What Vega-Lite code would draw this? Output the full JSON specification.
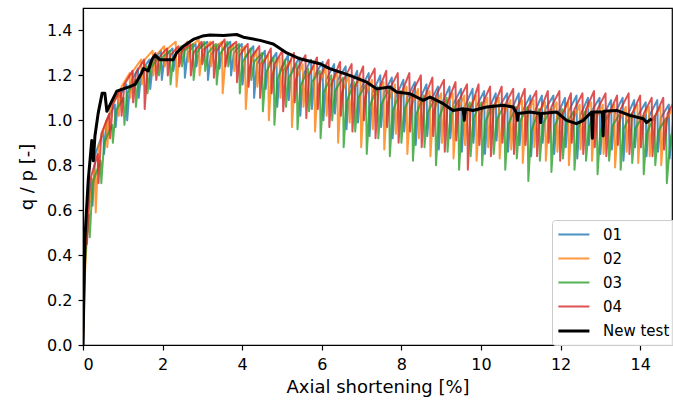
{
"$schema":"https://vega.github.io/schema/vega-lite/v6.json",
"width":589,"height":337,
"autosize":{"type":"none"},
"padding":{"left":83,"top":8,"right":1,"bottom":60},
"config":{
 "font":"DejaVu Sans",
 "view":{"stroke":"#000000","strokeWidth":1.2},
 "axis":{"grid":false,"domainColor":"#000000","domainWidth":1.2,"tickColor":"#000000","tickWidth":1.2,"tickSize":5,"labelColor":"#000000","titleColor":"#000000","labelFontSize":16,"titleFontSize":18,"titleFontWeight":"normal","labelFont":"DejaVu Sans","titleFont":"DejaVu Sans"},
 "legend":{"orient":"none","legendX":469,"legendY":212,"padding":6,"strokeColor":"#cccccc","fillColor":"rgba(255,255,255,0.85)","cornerRadius":3,"labelFontSize":15,"labelFont":"DejaVu Sans","labelColor":"#000000","symbolType":"M-1.15,0H2.99","symbolSize":225,"rowPadding":7,"labelOffset":27,"symbolStrokeWidth":2}
},
"data":{"values":[
{"s":"01","x":0,"y":0},{"s":"01","x":0.04,"y":0.35},{"s":"01","x":0.1,"y":0.55},{"s":"01","x":0.16,"y":0.67},
{"s":"01","x":0.22,"y":0.74},{"s":"01","x":0.24,"y":0.62},{"s":"01","x":0.31,"y":0.85},
{"s":"01","x":0.51,"y":0.95},{"s":"01","x":0.53,"y":0.85},{"s":"01","x":0.60,"y":1.00},
{"s":"01","x":0.80,"y":1.07},{"s":"01","x":0.82,"y":0.97},{"s":"01","x":0.89,"y":1.10},
{"s":"01","x":1.09,"y":1.16},{"s":"01","x":1.11,"y":1.00},{"s":"01","x":1.18,"y":1.16},
{"s":"01","x":1.38,"y":1.23},{"s":"01","x":1.40,"y":1.10},{"s":"01","x":1.47,"y":1.22},
{"s":"01","x":1.67,"y":1.27},{"s":"01","x":1.69,"y":1.14},{"s":"01","x":1.76,"y":1.26},
{"s":"01","x":1.96,"y":1.31},{"s":"01","x":1.98,"y":1.18},{"s":"01","x":2.05,"y":1.28},
{"s":"01","x":2.25,"y":1.32},{"s":"01","x":2.27,"y":1.22},{"s":"01","x":2.34,"y":1.30},
{"s":"01","x":2.54,"y":1.33},{"s":"01","x":2.56,"y":1.19},{"s":"01","x":2.63,"y":1.30},
{"s":"01","x":2.83,"y":1.34},{"s":"01","x":2.85,"y":1.24},{"s":"01","x":2.92,"y":1.32},
{"s":"01","x":3.12,"y":1.35},{"s":"01","x":3.14,"y":1.18},{"s":"01","x":3.21,"y":1.29},
{"s":"01","x":3.41,"y":1.34},{"s":"01","x":3.43,"y":1.23},{"s":"01","x":3.50,"y":1.31},
{"s":"01","x":3.70,"y":1.35},{"s":"01","x":3.72,"y":1.20},{"s":"01","x":3.79,"y":1.30},
{"s":"01","x":3.99,"y":1.34},{"s":"01","x":4.01,"y":1.16},{"s":"01","x":4.08,"y":1.28},
{"s":"01","x":4.28,"y":1.33},{"s":"01","x":4.30,"y":1.10},{"s":"01","x":4.37,"y":1.25},
{"s":"01","x":4.57,"y":1.31},{"s":"01","x":4.59,"y":1.14},{"s":"01","x":4.66,"y":1.25},
{"s":"01","x":4.86,"y":1.30},{"s":"01","x":4.88,"y":1.06},{"s":"01","x":4.95,"y":1.22},
{"s":"01","x":5.15,"y":1.29},{"s":"01","x":5.17,"y":1.09},{"s":"01","x":5.24,"y":1.22},
{"s":"01","x":5.44,"y":1.28},{"s":"01","x":5.46,"y":1.02},{"s":"01","x":5.53,"y":1.20},
{"s":"01","x":5.73,"y":1.27},{"s":"01","x":5.75,"y":1.05},{"s":"01","x":5.82,"y":1.20},
{"s":"01","x":6.02,"y":1.26},{"s":"01","x":6.04,"y":1.00},{"s":"01","x":6.11,"y":1.18},
{"s":"01","x":6.31,"y":1.25},{"s":"01","x":6.33,"y":1.03},{"s":"01","x":6.40,"y":1.18},
{"s":"01","x":6.60,"y":1.24},{"s":"01","x":6.62,"y":0.96},{"s":"01","x":6.69,"y":1.14},
{"s":"01","x":6.89,"y":1.22},{"s":"01","x":6.91,"y":0.99},{"s":"01","x":6.98,"y":1.14},
{"s":"01","x":7.18,"y":1.21},{"s":"01","x":7.20,"y":0.93},{"s":"01","x":7.27,"y":1.12},
{"s":"01","x":7.47,"y":1.20},{"s":"01","x":7.49,"y":0.97},{"s":"01","x":7.56,"y":1.12},
{"s":"01","x":7.76,"y":1.19},{"s":"01","x":7.78,"y":0.92},{"s":"01","x":7.85,"y":1.10},
{"s":"01","x":8.05,"y":1.18},{"s":"01","x":8.07,"y":0.95},{"s":"01","x":8.14,"y":1.10},
{"s":"01","x":8.34,"y":1.17},{"s":"01","x":8.36,"y":0.89},{"s":"01","x":8.43,"y":1.08},
{"s":"01","x":8.63,"y":1.16},{"s":"01","x":8.65,"y":0.93},{"s":"01","x":8.72,"y":1.08},
{"s":"01","x":8.92,"y":1.15},{"s":"01","x":8.94,"y":0.87},{"s":"01","x":9.01,"y":1.07},
{"s":"01","x":9.21,"y":1.15},{"s":"01","x":9.23,"y":0.92},{"s":"01","x":9.30,"y":1.07},
{"s":"01","x":9.50,"y":1.14},{"s":"01","x":9.52,"y":0.86},{"s":"01","x":9.59,"y":1.06},
{"s":"01","x":9.79,"y":1.14},{"s":"01","x":9.81,"y":0.90},{"s":"01","x":9.88,"y":1.06},
{"s":"01","x":10.08,"y":1.13},{"s":"01","x":10.10,"y":0.85},{"s":"01","x":10.17,"y":1.04},
{"s":"01","x":10.37,"y":1.12},{"s":"01","x":10.39,"y":0.91},{"s":"01","x":10.46,"y":1.06},
{"s":"01","x":10.66,"y":1.12},{"s":"01","x":10.68,"y":0.86},{"s":"01","x":10.75,"y":1.04},
{"s":"01","x":10.95,"y":1.12},{"s":"01","x":10.97,"y":0.89},{"s":"01","x":11.04,"y":1.04},
{"s":"01","x":11.24,"y":1.11},{"s":"01","x":11.26,"y":0.84},{"s":"01","x":11.33,"y":1.03},
{"s":"01","x":11.53,"y":1.11},{"s":"01","x":11.55,"y":0.90},{"s":"01","x":11.62,"y":1.05},
{"s":"01","x":11.82,"y":1.11},{"s":"01","x":11.84,"y":0.85},{"s":"01","x":11.91,"y":1.02},
{"s":"01","x":12.11,"y":1.10},{"s":"01","x":12.13,"y":0.88},{"s":"01","x":12.20,"y":1.04},
{"s":"01","x":12.40,"y":1.11},{"s":"01","x":12.42,"y":0.83},{"s":"01","x":12.49,"y":1.02},
{"s":"01","x":12.69,"y":1.10},{"s":"01","x":12.71,"y":0.89},{"s":"01","x":12.78,"y":1.04},
{"s":"01","x":12.98,"y":1.10},{"s":"01","x":13.00,"y":0.85},{"s":"01","x":13.07,"y":1.02},
{"s":"01","x":13.27,"y":1.09},{"s":"01","x":13.29,"y":0.87},{"s":"01","x":13.36,"y":1.03},
{"s":"01","x":13.56,"y":1.10},{"s":"01","x":13.58,"y":0.82},{"s":"01","x":13.65,"y":1.01},
{"s":"01","x":13.85,"y":1.09},{"s":"01","x":13.87,"y":0.88},{"s":"01","x":13.94,"y":1.02},
{"s":"01","x":14.14,"y":1.08},{"s":"01","x":14.16,"y":0.84},{"s":"01","x":14.23,"y":1.02},
{"s":"01","x":14.43,"y":1.09},{"s":"01","x":14.45,"y":0.86},{"s":"01","x":14.52,"y":1.01},
{"s":"01","x":14.72,"y":1.07},{"s":"01","x":14.74,"y":0.83},{"s":"01","x":14.83,"y":1.00},
{"s":"02","x":0,"y":0},{"s":"02","x":0.05,"y":0.32},{"s":"02","x":0.12,"y":0.55},{"s":"02","x":0.2,"y":0.68},
{"s":"02","x":0.30,"y":0.78},{"s":"02","x":0.32,"y":0.59},{"s":"02","x":0.39,"y":0.88},
{"s":"02","x":0.59,"y":1.00},{"s":"02","x":0.61,"y":0.88},{"s":"02","x":0.68,"y":1.05},
{"s":"02","x":0.88,"y":1.12},{"s":"02","x":0.90,"y":1.02},{"s":"02","x":0.97,"y":1.15},
{"s":"02","x":1.17,"y":1.21},{"s":"02","x":1.19,"y":1.10},{"s":"02","x":1.26,"y":1.22},
{"s":"02","x":1.46,"y":1.27},{"s":"02","x":1.48,"y":1.16},{"s":"02","x":1.55,"y":1.27},
{"s":"02","x":1.75,"y":1.31},{"s":"02","x":1.77,"y":1.20},{"s":"02","x":1.84,"y":1.29},
{"s":"02","x":2.04,"y":1.33},{"s":"02","x":2.06,"y":1.24},{"s":"02","x":2.13,"y":1.32},
{"s":"02","x":2.33,"y":1.35},{"s":"02","x":2.35,"y":1.15},{"s":"02","x":2.42,"y":1.29},
{"s":"02","x":2.62,"y":1.35},{"s":"02","x":2.64,"y":1.26},{"s":"02","x":2.71,"y":1.33},
{"s":"02","x":2.91,"y":1.36},{"s":"02","x":2.93,"y":1.20},{"s":"02","x":3.00,"y":1.31},
{"s":"02","x":3.20,"y":1.35},{"s":"02","x":3.22,"y":1.24},{"s":"02","x":3.29,"y":1.32},
{"s":"02","x":3.49,"y":1.35},{"s":"02","x":3.51,"y":1.12},{"s":"02","x":3.58,"y":1.27},
{"s":"02","x":3.78,"y":1.34},{"s":"02","x":3.80,"y":1.22},{"s":"02","x":3.87,"y":1.30},
{"s":"02","x":4.07,"y":1.33},{"s":"02","x":4.09,"y":1.05},{"s":"02","x":4.16,"y":1.23},
{"s":"02","x":4.36,"y":1.31},{"s":"02","x":4.38,"y":1.15},{"s":"02","x":4.45,"y":1.25},
{"s":"02","x":4.65,"y":1.29},{"s":"02","x":4.67,"y":1.00},{"s":"02","x":4.74,"y":1.20},
{"s":"02","x":4.94,"y":1.28},{"s":"02","x":4.96,"y":1.10},{"s":"02","x":5.03,"y":1.22},
{"s":"02","x":5.23,"y":1.27},{"s":"02","x":5.25,"y":0.97},{"s":"02","x":5.32,"y":1.17},
{"s":"02","x":5.52,"y":1.25},{"s":"02","x":5.54,"y":1.06},{"s":"02","x":5.61,"y":1.19},
{"s":"02","x":5.81,"y":1.24},{"s":"02","x":5.83,"y":0.95},{"s":"02","x":5.90,"y":1.15},
{"s":"02","x":6.10,"y":1.23},{"s":"02","x":6.12,"y":1.02},{"s":"02","x":6.19,"y":1.15},
{"s":"02","x":6.39,"y":1.21},{"s":"02","x":6.41,"y":0.90},{"s":"02","x":6.48,"y":1.11},
{"s":"02","x":6.68,"y":1.20},{"s":"02","x":6.70,"y":0.99},{"s":"02","x":6.77,"y":1.13},
{"s":"02","x":6.97,"y":1.19},{"s":"02","x":6.99,"y":0.88},{"s":"02","x":7.06,"y":1.09},
{"s":"02","x":7.26,"y":1.18},{"s":"02","x":7.28,"y":0.96},{"s":"02","x":7.35,"y":1.11},
{"s":"02","x":7.55,"y":1.17},{"s":"02","x":7.57,"y":0.87},{"s":"02","x":7.64,"y":1.07},
{"s":"02","x":7.84,"y":1.16},{"s":"02","x":7.86,"y":0.94},{"s":"02","x":7.93,"y":1.09},
{"s":"02","x":8.13,"y":1.15},{"s":"02","x":8.15,"y":0.85},{"s":"02","x":8.22,"y":1.05},
{"s":"02","x":8.42,"y":1.14},{"s":"02","x":8.44,"y":0.92},{"s":"02","x":8.51,"y":1.07},
{"s":"02","x":8.71,"y":1.13},{"s":"02","x":8.73,"y":0.84},{"s":"02","x":8.80,"y":1.04},
{"s":"02","x":9.00,"y":1.12},{"s":"02","x":9.02,"y":0.90},{"s":"02","x":9.09,"y":1.05},
{"s":"02","x":9.29,"y":1.12},{"s":"02","x":9.31,"y":0.83},{"s":"02","x":9.38,"y":1.03},
{"s":"02","x":9.58,"y":1.11},{"s":"02","x":9.60,"y":0.89},{"s":"02","x":9.67,"y":1.04},
{"s":"02","x":9.87,"y":1.11},{"s":"02","x":9.89,"y":0.82},{"s":"02","x":9.96,"y":1.02},
{"s":"02","x":10.16,"y":1.10},{"s":"02","x":10.18,"y":0.88},{"s":"02","x":10.25,"y":1.03},
{"s":"02","x":10.45,"y":1.10},{"s":"02","x":10.47,"y":0.83},{"s":"02","x":10.54,"y":1.01},
{"s":"02","x":10.74,"y":1.09},{"s":"02","x":10.76,"y":0.87},{"s":"02","x":10.83,"y":1.02},
{"s":"02","x":11.03,"y":1.09},{"s":"02","x":11.05,"y":0.81},{"s":"02","x":11.12,"y":1.01},
{"s":"02","x":11.32,"y":1.09},{"s":"02","x":11.34,"y":0.88},{"s":"02","x":11.41,"y":1.02},
{"s":"02","x":11.61,"y":1.08},{"s":"02","x":11.63,"y":0.82},{"s":"02","x":11.70,"y":1.00},
{"s":"02","x":11.90,"y":1.08},{"s":"02","x":11.92,"y":0.86},{"s":"02","x":11.99,"y":1.01},
{"s":"02","x":12.19,"y":1.08},{"s":"02","x":12.21,"y":0.80},{"s":"02","x":12.28,"y":0.99},
{"s":"02","x":12.48,"y":1.07},{"s":"02","x":12.50,"y":0.87},{"s":"02","x":12.57,"y":1.02},
{"s":"02","x":12.77,"y":1.08},{"s":"02","x":12.79,"y":0.82},{"s":"02","x":12.86,"y":1.00},
{"s":"02","x":13.06,"y":1.07},{"s":"02","x":13.08,"y":0.85},{"s":"02","x":13.15,"y":1.00},
{"s":"02","x":13.35,"y":1.07},{"s":"02","x":13.37,"y":0.79},{"s":"02","x":13.44,"y":0.98},
{"s":"02","x":13.64,"y":1.06},{"s":"02","x":13.66,"y":0.86},{"s":"02","x":13.73,"y":1.01},
{"s":"02","x":13.93,"y":1.07},{"s":"02","x":13.95,"y":0.81},{"s":"02","x":14.02,"y":0.99},
{"s":"02","x":14.22,"y":1.06},{"s":"02","x":14.24,"y":0.84},{"s":"02","x":14.31,"y":1.00},
{"s":"02","x":14.51,"y":1.06},{"s":"02","x":14.53,"y":0.80},{"s":"02","x":14.60,"y":0.98},
{"s":"02","x":14.80,"y":1.05},
{"s":"03","x":0,"y":0},{"s":"03","x":0.03,"y":0.30},{"s":"03","x":0.08,"y":0.45},
{"s":"03","x":0.15,"y":0.58},{"s":"03","x":0.17,"y":0.48},{"s":"03","x":0.24,"y":0.72},
{"s":"03","x":0.44,"y":0.82},{"s":"03","x":0.46,"y":0.72},{"s":"03","x":0.53,"y":0.90},
{"s":"03","x":0.73,"y":0.98},{"s":"03","x":0.75,"y":0.90},{"s":"03","x":0.82,"y":1.04},
{"s":"03","x":1.02,"y":1.10},{"s":"03","x":1.04,"y":0.98},{"s":"03","x":1.11,"y":1.12},
{"s":"03","x":1.31,"y":1.18},{"s":"03","x":1.33,"y":1.06},{"s":"03","x":1.40,"y":1.19},
{"s":"03","x":1.60,"y":1.24},{"s":"03","x":1.62,"y":1.12},{"s":"03","x":1.69,"y":1.23},
{"s":"03","x":1.89,"y":1.28},{"s":"03","x":1.91,"y":1.20},{"s":"03","x":1.98,"y":1.28},
{"s":"03","x":2.18,"y":1.31},{"s":"03","x":2.20,"y":1.16},{"s":"03","x":2.27,"y":1.28},
{"s":"03","x":2.47,"y":1.33},{"s":"03","x":2.49,"y":1.24},{"s":"03","x":2.56,"y":1.31},
{"s":"03","x":2.76,"y":1.34},{"s":"03","x":2.78,"y":1.18},{"s":"03","x":2.85,"y":1.30},
{"s":"03","x":3.05,"y":1.35},{"s":"03","x":3.07,"y":1.22},{"s":"03","x":3.14,"y":1.30},
{"s":"03","x":3.34,"y":1.34},{"s":"03","x":3.36,"y":1.16},{"s":"03","x":3.43,"y":1.29},
{"s":"03","x":3.63,"y":1.35},{"s":"03","x":3.65,"y":1.24},{"s":"03","x":3.72,"y":1.31},
{"s":"03","x":3.92,"y":1.34},{"s":"03","x":3.94,"y":1.12},{"s":"03","x":4.01,"y":1.26},
{"s":"03","x":4.21,"y":1.32},{"s":"03","x":4.23,"y":1.18},{"s":"03","x":4.30,"y":1.26},
{"s":"03","x":4.50,"y":1.30},{"s":"03","x":4.52,"y":1.04},{"s":"03","x":4.59,"y":1.21},
{"s":"03","x":4.79,"y":1.28},{"s":"03","x":4.81,"y":0.98},{"s":"03","x":4.88,"y":1.18},
{"s":"03","x":5.08,"y":1.27},{"s":"03","x":5.10,"y":1.06},{"s":"03","x":5.17,"y":1.19},
{"s":"03","x":5.37,"y":1.25},{"s":"03","x":5.39,"y":0.96},{"s":"03","x":5.46,"y":1.15},
{"s":"03","x":5.66,"y":1.23},{"s":"03","x":5.68,"y":1.04},{"s":"03","x":5.75,"y":1.17},
{"s":"03","x":5.95,"y":1.22},{"s":"03","x":5.97,"y":0.92},{"s":"03","x":6.04,"y":1.12},
{"s":"03","x":6.24,"y":1.20},{"s":"03","x":6.26,"y":1.00},{"s":"03","x":6.33,"y":1.13},
{"s":"03","x":6.53,"y":1.19},{"s":"03","x":6.55,"y":0.88},{"s":"03","x":6.62,"y":1.08},
{"s":"03","x":6.82,"y":1.17},{"s":"03","x":6.84,"y":0.95},{"s":"03","x":6.91,"y":1.10},
{"s":"03","x":7.11,"y":1.16},{"s":"03","x":7.13,"y":0.85},{"s":"03","x":7.20,"y":1.06},
{"s":"03","x":7.40,"y":1.15},{"s":"03","x":7.42,"y":0.92},{"s":"03","x":7.49,"y":1.07},
{"s":"03","x":7.69,"y":1.14},{"s":"03","x":7.71,"y":0.84},{"s":"03","x":7.78,"y":1.04},
{"s":"03","x":7.98,"y":1.13},{"s":"03","x":8.00,"y":0.90},{"s":"03","x":8.07,"y":1.05},
{"s":"03","x":8.27,"y":1.12},{"s":"03","x":8.29,"y":0.82},{"s":"03","x":8.36,"y":1.02},
{"s":"03","x":8.56,"y":1.11},{"s":"03","x":8.58,"y":0.88},{"s":"03","x":8.65,"y":1.03},
{"s":"03","x":8.85,"y":1.10},{"s":"03","x":8.87,"y":0.80},{"s":"03","x":8.94,"y":1.01},
{"s":"03","x":9.14,"y":1.10},{"s":"03","x":9.16,"y":0.86},{"s":"03","x":9.23,"y":1.02},
{"s":"03","x":9.43,"y":1.09},{"s":"03","x":9.45,"y":0.78},{"s":"03","x":9.52,"y":0.99},
{"s":"03","x":9.72,"y":1.08},{"s":"03","x":9.74,"y":0.84},{"s":"03","x":9.81,"y":1.01},
{"s":"03","x":10.01,"y":1.08},{"s":"03","x":10.03,"y":0.80},{"s":"03","x":10.10,"y":0.99},
{"s":"03","x":10.30,"y":1.07},{"s":"03","x":10.32,"y":0.85},{"s":"03","x":10.39,"y":1.00},
{"s":"03","x":10.59,"y":1.07},{"s":"03","x":10.61,"y":0.78},{"s":"03","x":10.68,"y":0.98},
{"s":"03","x":10.88,"y":1.06},{"s":"03","x":10.90,"y":0.83},{"s":"03","x":10.97,"y":0.99},
{"s":"03","x":11.17,"y":1.06},{"s":"03","x":11.19,"y":0.73},{"s":"03","x":11.26,"y":0.95},
{"s":"03","x":11.46,"y":1.05},{"s":"03","x":11.48,"y":0.82},{"s":"03","x":11.55,"y":0.98},
{"s":"03","x":11.75,"y":1.05},{"s":"03","x":11.77,"y":0.77},{"s":"03","x":11.84,"y":0.97},
{"s":"03","x":12.04,"y":1.05},{"s":"03","x":12.06,"y":0.83},{"s":"03","x":12.13,"y":0.98},
{"s":"03","x":12.33,"y":1.04},{"s":"03","x":12.35,"y":0.78},{"s":"03","x":12.42,"y":0.96},
{"s":"03","x":12.62,"y":1.04},{"s":"03","x":12.64,"y":0.82},{"s":"03","x":12.71,"y":0.97},
{"s":"03","x":12.91,"y":1.04},{"s":"03","x":12.93,"y":0.76},{"s":"03","x":13.00,"y":0.95},
{"s":"03","x":13.20,"y":1.03},{"s":"03","x":13.22,"y":0.82},{"s":"03","x":13.29,"y":0.97},
{"s":"03","x":13.49,"y":1.03},{"s":"03","x":13.51,"y":0.78},{"s":"03","x":13.58,"y":0.96},
{"s":"03","x":13.78,"y":1.03},{"s":"03","x":13.80,"y":0.81},{"s":"03","x":13.87,"y":0.96},
{"s":"03","x":14.07,"y":1.02},{"s":"03","x":14.09,"y":0.76},{"s":"03","x":14.16,"y":0.94},
{"s":"03","x":14.36,"y":1.02},{"s":"03","x":14.38,"y":0.80},{"s":"03","x":14.45,"y":0.95},
{"s":"03","x":14.65,"y":1.01},{"s":"03","x":14.67,"y":0.72},{"s":"03","x":14.76,"y":0.92},{"s":"03","x":14.9,"y":1.0},
{"s":"04","x":0,"y":0},{"s":"04","x":0.03,"y":0.30},
{"s":"04","x":0.08,"y":0.55},{"s":"04","x":0.10,"y":0.45},{"s":"04","x":0.17,"y":0.73},
{"s":"04","x":0.37,"y":0.85},{"s":"04","x":0.39,"y":0.72},{"s":"04","x":0.46,"y":0.94},
{"s":"04","x":0.66,"y":1.03},{"s":"04","x":0.68,"y":0.92},{"s":"04","x":0.75,"y":1.07},
{"s":"04","x":0.95,"y":1.14},{"s":"04","x":0.97,"y":1.02},{"s":"04","x":1.04,"y":1.16},
{"s":"04","x":1.24,"y":1.22},{"s":"04","x":1.26,"y":1.08},{"s":"04","x":1.33,"y":1.21},
{"s":"04","x":1.53,"y":1.27},{"s":"04","x":1.55,"y":1.05},{"s":"04","x":1.62,"y":1.23},
{"s":"04","x":1.82,"y":1.30},{"s":"04","x":1.84,"y":1.18},{"s":"04","x":1.91,"y":1.28},
{"s":"04","x":2.11,"y":1.32},{"s":"04","x":2.13,"y":1.20},{"s":"04","x":2.20,"y":1.29},
{"s":"04","x":2.40,"y":1.33},{"s":"04","x":2.42,"y":1.24},{"s":"04","x":2.49,"y":1.31},
{"s":"04","x":2.69,"y":1.34},{"s":"04","x":2.71,"y":1.20},{"s":"04","x":2.78,"y":1.30},
{"s":"04","x":2.98,"y":1.35},{"s":"04","x":3.00,"y":1.25},{"s":"04","x":3.07,"y":1.32},
{"s":"04","x":3.27,"y":1.35},{"s":"04","x":3.29,"y":1.19},{"s":"04","x":3.36,"y":1.31},
{"s":"04","x":3.56,"y":1.36},{"s":"04","x":3.58,"y":1.24},{"s":"04","x":3.65,"y":1.32},
{"s":"04","x":3.85,"y":1.35},{"s":"04","x":3.87,"y":1.17},{"s":"04","x":3.94,"y":1.29},
{"s":"04","x":4.14,"y":1.34},{"s":"04","x":4.16,"y":1.15},{"s":"04","x":4.23,"y":1.28},
{"s":"04","x":4.43,"y":1.33},{"s":"04","x":4.45,"y":1.10},{"s":"04","x":4.52,"y":1.25},
{"s":"04","x":4.72,"y":1.32},{"s":"04","x":4.74,"y":1.12},{"s":"04","x":4.81,"y":1.25},
{"s":"04","x":5.01,"y":1.31},{"s":"04","x":5.03,"y":1.04},{"s":"04","x":5.10,"y":1.22},
{"s":"04","x":5.30,"y":1.30},{"s":"04","x":5.32,"y":1.08},{"s":"04","x":5.39,"y":1.23},
{"s":"04","x":5.59,"y":1.29},{"s":"04","x":5.61,"y":1.01},{"s":"04","x":5.68,"y":1.20},
{"s":"04","x":5.88,"y":1.28},{"s":"04","x":5.90,"y":1.05},{"s":"04","x":5.97,"y":1.20},
{"s":"04","x":6.17,"y":1.27},{"s":"04","x":6.19,"y":0.97},{"s":"04","x":6.26,"y":1.17},
{"s":"04","x":6.46,"y":1.26},{"s":"04","x":6.48,"y":1.02},{"s":"04","x":6.55,"y":1.18},
{"s":"04","x":6.75,"y":1.25},{"s":"04","x":6.77,"y":0.95},{"s":"04","x":6.84,"y":1.15},
{"s":"04","x":7.04,"y":1.24},{"s":"04","x":7.06,"y":1.00},{"s":"04","x":7.13,"y":1.16},
{"s":"04","x":7.33,"y":1.23},{"s":"04","x":7.35,"y":0.92},{"s":"04","x":7.42,"y":1.13},
{"s":"04","x":7.62,"y":1.22},{"s":"04","x":7.64,"y":0.97},{"s":"04","x":7.71,"y":1.14},
{"s":"04","x":7.91,"y":1.21},{"s":"04","x":7.93,"y":0.90},{"s":"04","x":8.00,"y":1.12},
{"s":"04","x":8.20,"y":1.21},{"s":"04","x":8.22,"y":0.95},{"s":"04","x":8.29,"y":1.13},
{"s":"04","x":8.49,"y":1.20},{"s":"04","x":8.51,"y":0.88},{"s":"04","x":8.58,"y":1.10},
{"s":"04","x":8.78,"y":1.19},{"s":"04","x":8.80,"y":0.93},{"s":"04","x":8.87,"y":1.11},
{"s":"04","x":9.07,"y":1.18},{"s":"04","x":9.09,"y":0.86},{"s":"04","x":9.16,"y":1.08},
{"s":"04","x":9.36,"y":1.17},{"s":"04","x":9.38,"y":0.91},{"s":"04","x":9.45,"y":1.09},
{"s":"04","x":9.65,"y":1.16},{"s":"04","x":9.67,"y":0.78},{"s":"04","x":9.74,"y":1.05},
{"s":"04","x":9.94,"y":1.16},{"s":"04","x":9.96,"y":0.89},{"s":"04","x":10.03,"y":1.07},
{"s":"04","x":10.23,"y":1.15},{"s":"04","x":10.25,"y":0.84},{"s":"04","x":10.32,"y":1.06},
{"s":"04","x":10.52,"y":1.15},{"s":"04","x":10.54,"y":0.90},{"s":"04","x":10.61,"y":1.07},
{"s":"04","x":10.81,"y":1.14},{"s":"04","x":10.83,"y":0.85},{"s":"04","x":10.90,"y":1.05},
{"s":"04","x":11.10,"y":1.14},{"s":"04","x":11.12,"y":0.89},{"s":"04","x":11.19,"y":1.06},
{"s":"04","x":11.39,"y":1.13},{"s":"04","x":11.41,"y":0.84},{"s":"04","x":11.48,"y":1.04},
{"s":"04","x":11.68,"y":1.13},{"s":"04","x":11.70,"y":0.90},{"s":"04","x":11.77,"y":1.06},
{"s":"04","x":11.97,"y":1.13},{"s":"04","x":11.99,"y":0.82},{"s":"04","x":12.06,"y":1.03},
{"s":"04","x":12.26,"y":1.12},{"s":"04","x":12.28,"y":0.90},{"s":"04","x":12.35,"y":1.05},
{"s":"04","x":12.55,"y":1.12},{"s":"04","x":12.57,"y":0.85},{"s":"04","x":12.64,"y":1.05},
{"s":"04","x":12.84,"y":1.13},{"s":"04","x":12.86,"y":0.88},{"s":"04","x":12.93,"y":1.05},
{"s":"04","x":13.13,"y":1.12},{"s":"04","x":13.15,"y":0.84},{"s":"04","x":13.22,"y":1.03},
{"s":"04","x":13.42,"y":1.11},{"s":"04","x":13.44,"y":0.89},{"s":"04","x":13.51,"y":1.05},
{"s":"04","x":13.71,"y":1.12},{"s":"04","x":13.73,"y":0.85},{"s":"04","x":13.80,"y":1.03},
{"s":"04","x":14.00,"y":1.11},{"s":"04","x":14.02,"y":0.88},{"s":"04","x":14.09,"y":1.03},
{"s":"04","x":14.29,"y":1.10},{"s":"04","x":14.31,"y":0.84},{"s":"04","x":14.38,"y":1.02},
{"s":"04","x":14.58,"y":1.10},{"s":"04","x":14.60,"y":0.87},{"s":"04","x":14.69,"y":1.03},{"s":"04","x":14.87,"y":1.09},
{"s":"New test","x":0,"y":0},{"s":"New test","x":0.02,"y":0.2},{"s":"New test","x":0.05,"y":0.48},{"s":"New test","x":0.13,"y":0.73},
{"s":"New test","x":0.22,"y":0.91},{"s":"New test","x":0.26,"y":0.82},{"s":"New test","x":0.30,"y":0.93},{"s":"New test","x":0.38,"y":1.03},
{"s":"New test","x":0.48,"y":1.12},{"s":"New test","x":0.55,"y":1.12},{"s":"New test","x":0.60,"y":1.04},{"s":"New test","x":0.68,"y":1.07},
{"s":"New test","x":0.85,"y":1.13},{"s":"New test","x":1.01,"y":1.14},{"s":"New test","x":1.18,"y":1.15},{"s":"New test","x":1.31,"y":1.16},
{"s":"New test","x":1.47,"y":1.21},{"s":"New test","x":1.52,"y":1.23},{"s":"New test","x":1.64,"y":1.22},{"s":"New test","x":1.73,"y":1.27},
{"s":"New test","x":1.81,"y":1.29},{"s":"New test","x":1.93,"y":1.27},{"s":"New test","x":2.27,"y":1.27},{"s":"New test","x":2.35,"y":1.30},
{"s":"New test","x":2.52,"y":1.33},{"s":"New test","x":2.77,"y":1.36},{"s":"New test","x":3.0,"y":1.375},{"s":"New test","x":3.19,"y":1.38},
{"s":"New test","x":3.53,"y":1.378},{"s":"New test","x":3.86,"y":1.382},{"s":"New test","x":4.03,"y":1.37},{"s":"New test","x":4.45,"y":1.356},
{"s":"New test","x":4.78,"y":1.34},{"s":"New test","x":5.12,"y":1.30},{"s":"New test","x":5.45,"y":1.274},{"s":"New test","x":5.95,"y":1.252},
{"s":"New test","x":6.2,"y":1.23},{"s":"New test","x":6.7,"y":1.2},{"s":"New test","x":7.13,"y":1.17},{"s":"New test","x":7.38,"y":1.14},
{"s":"New test","x":7.71,"y":1.148},{"s":"New test","x":7.88,"y":1.126},{"s":"New test","x":8.22,"y":1.118},{"s":"New test","x":8.55,"y":1.089},
{"s":"New test","x":8.72,"y":1.104},{"s":"New test","x":9.05,"y":1.074},{"s":"New test","x":9.3,"y":1.044},{"s":"New test","x":9.55,"y":1.052},
{"s":"New test","x":9.58,"y":1.0},{"s":"New test","x":9.61,"y":1.05},{"s":"New test","x":9.8,"y":1.044},{"s":"New test","x":10.14,"y":1.059},
{"s":"New test","x":10.56,"y":1.067},{"s":"New test","x":10.81,"y":1.059},{"s":"New test","x":10.9,"y":1.03},{"s":"New test","x":10.92,"y":1.0},
{"s":"New test","x":10.94,"y":1.03},{"s":"New test","x":11.23,"y":1.037},{"s":"New test","x":11.48,"y":1.03},{"s":"New test","x":11.5,"y":0.99},
{"s":"New test","x":11.52,"y":1.03},{"s":"New test","x":11.9,"y":1.037},{"s":"New test","x":12.15,"y":1.0},{"s":"New test","x":12.4,"y":0.985},
{"s":"New test","x":12.57,"y":1.0},{"s":"New test","x":12.78,"y":1.037},{"s":"New test","x":12.8,"y":0.92},{"s":"New test","x":12.82,"y":1.037},
{"s":"New test","x":13.05,"y":1.037},{"s":"New test","x":13.07,"y":0.93},{"s":"New test","x":13.09,"y":1.04},{"s":"New test","x":13.41,"y":1.044},
{"s":"New test","x":13.74,"y":1.022},{"s":"New test","x":14.08,"y":1.007},{"s":"New test","x":14.16,"y":0.99},{"s":"New test","x":14.29,"y":1.007}
]},
"mark":{"type":"line","clip":true,"strokeJoin":"round","strokeCap":"butt"},
"encoding":{
 "x":{"field":"x","type":"quantitative","scale":{"domain":[0,14.8],"nice":false,"zero":false},"axis":{"values":[0,2,4,6,8,10,12,14],"title":"Axial shortening [%]","labelPadding":6,"titlePadding":6}},
 "y":{"field":"y","type":"quantitative","scale":{"domain":[0,1.5],"nice":false},"axis":{"values":[0,0.2,0.4,0.6,0.8,1.0,1.2,1.4],"format":".1f","title":"q / p [-]","labelPadding":6,"titlePadding":10}},
 "color":{"field":"s","type":"nominal","scale":{"domain":["01","02","03","04","New test"],"range":["#1f77b4","#ff7f0e","#2ca02c","#d62728","#000000"]},"legend":{"title":null}},
 "strokeWidth":{"field":"s","type":"nominal","scale":{"type":"ordinal","domain":["01","02","03","04","New test"],"range":[2,2,2,2,3]},"legend":{"title":null}},
 "opacity":{"field":"s","type":"nominal","scale":{"type":"ordinal","domain":["01","02","03","04","New test"],"range":[0.8,0.8,0.8,0.8,1]},"legend":{"title":null}}
}
}
